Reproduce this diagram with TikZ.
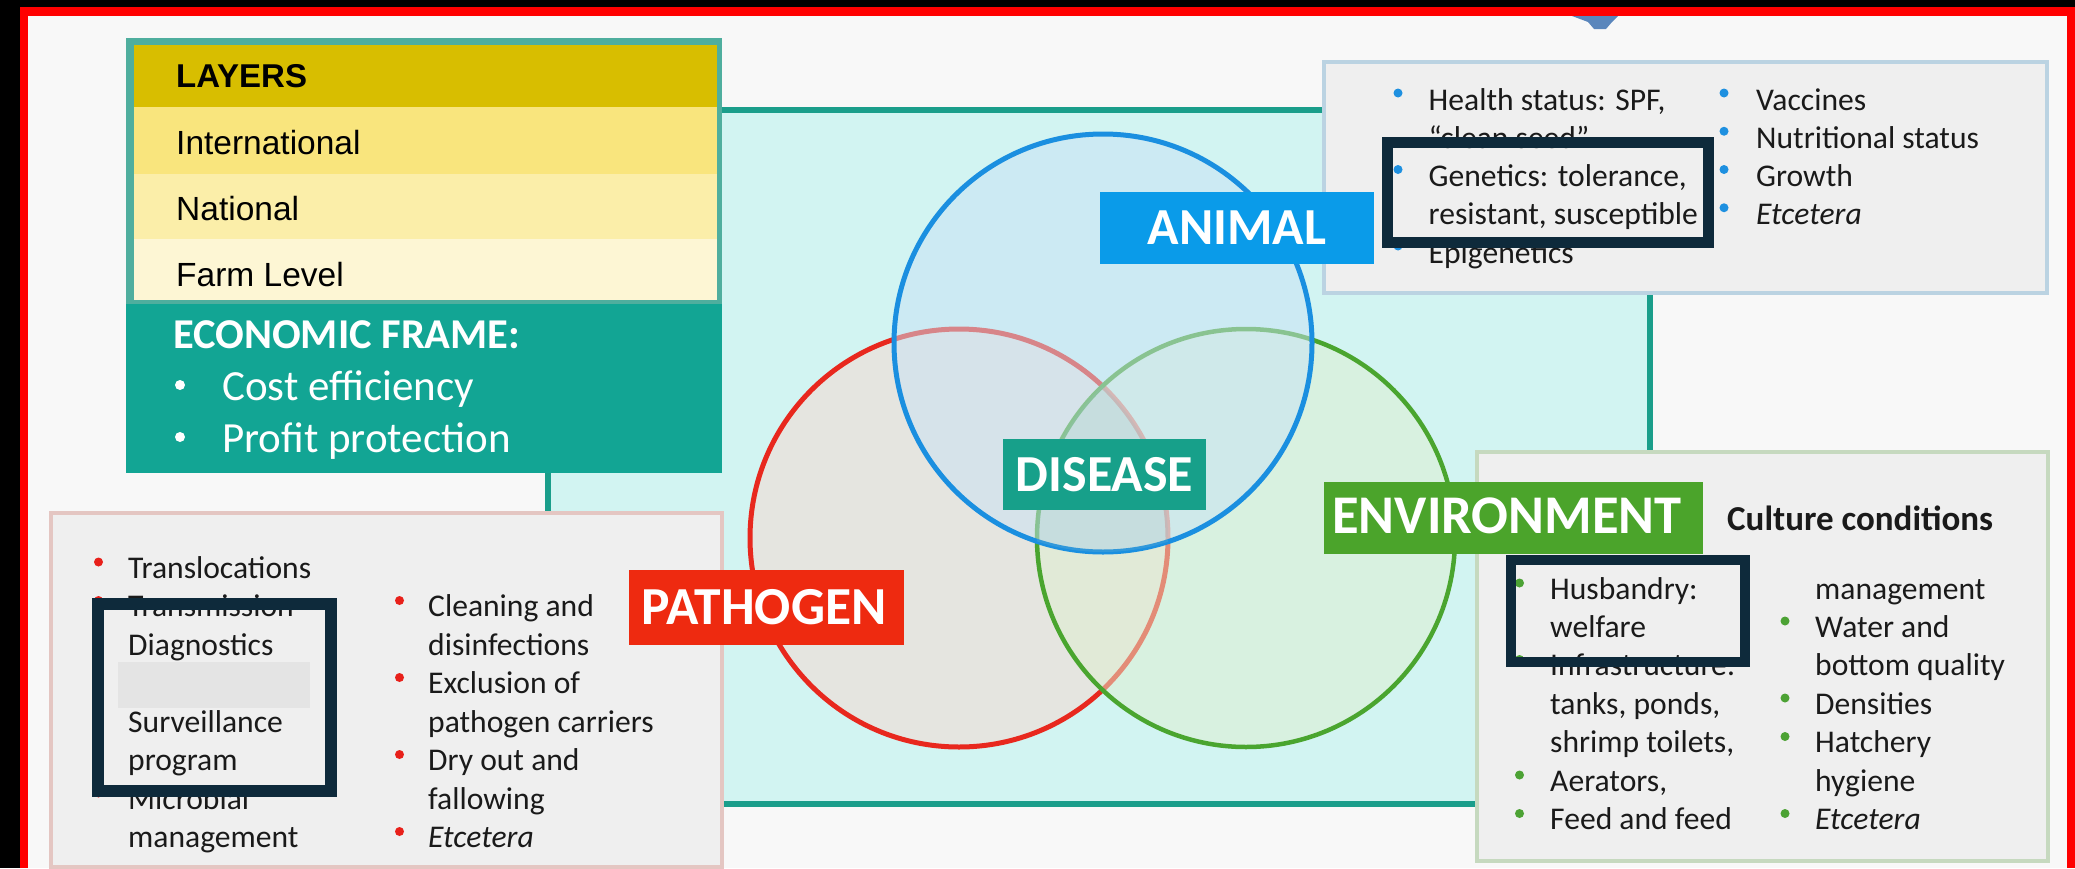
\documentclass[tikz,border=0pt]{standalone}
\usepackage{fontspec}
\setmainfont{Carlito}
\newfontfamily\arialfont{Liberation Sans}
\definecolor{bgc}{HTML}{F8F8F8}
\definecolor{frred}{HTML}{FF0000}
\definecolor{cyanbg}{HTML}{D2F4F2}
\definecolor{tealline}{HTML}{1A9E8B}
\definecolor{layhead}{HTML}{D8BE00}
\definecolor{layint}{HTML}{F9E57D}
\definecolor{laynat}{HTML}{FBEEA9}
\definecolor{layfarm}{HTML}{FDF6D4}
\definecolor{econ}{HTML}{12A594}
\definecolor{layborder}{HTML}{4FAE9E}
\definecolor{boxfill}{HTML}{EFEFEF}
\definecolor{animborder}{HTML}{BBD3E2}
\definecolor{pathborder}{HTML}{E4C6C2}
\definecolor{envborder}{HTML}{C6D9BF}
\definecolor{hilite}{HTML}{0E2A3B}
\definecolor{blueL}{HTML}{0A9BE9}
\definecolor{redL}{HTML}{EE2A10}
\definecolor{greenL}{HTML}{4BA42B}
\definecolor{tealL}{HTML}{17A08A}
\definecolor{blueC}{HTML}{1A8FE0}
\definecolor{redC}{HTML}{E8281E}
\definecolor{greenC}{HTML}{4AA52F}
\definecolor{blueF}{HTML}{C8E2F4}
\definecolor{redF}{HTML}{F2DCD5}
\definecolor{greenF}{HTML}{DFF0D0}
\definecolor{centerF}{HTML}{90C0C4}
\definecolor{txtc}{HTML}{1A1A1A}
\definecolor{bulB}{HTML}{1E90E0}
\definecolor{bulR}{HTML}{E8201A}
\definecolor{bulG}{HTML}{4CA234}
\definecolor{band}{HTML}{E4E4E4}
\definecolor{topblob}{HTML}{5A86BC}
\begin{document}
\begin{tikzpicture}[x=1pt,y=-1pt,
  lt/.style={anchor=base west, inner sep=0pt, text=txtc, font=\fontsize{31.6}{38}\selectfont},
  lti/.style={anchor=base west, inner sep=0pt, text=txtc, font=\fontsize{31.6}{38}\selectfont\itshape},
  lay/.style={anchor=base west, inner sep=0pt, text=black, font=\arialfont\fontsize{33.5}{40}\selectfont},
  big/.style={anchor=base, inner sep=0pt, text=white, font=\bfseries\fontsize{52}{60}\selectfont},
  econt/.style={anchor=base west, inner sep=0pt, text=white, font=\fontsize{43}{50}\selectfont},
  hbox/.style={draw=hilite, line width=11pt},
  panel/.style={fill=boxfill, line width=4pt}]
\useasboundingbox (0,0) rectangle (2075,868);
% background and frame
\fill[bgc] (0,0) rectangle (2075,868);
\fill[black] (0,0) rectangle (2075,7);
\fill[black] (0,0) rectangle (20,868);
\fill[frred] (20,7) rectangle (2075,16);
\fill[frred] (20,7) rectangle (28,868);
\fill[frred] (2067,7) rectangle (2075,868);
\fill[topblob] (1572,16) -- (1618,16) -- (1612,22) -- (1606,29) -- (1594,29) -- (1588,22) -- cycle;
% big cyan area
\filldraw[fill=cyanbg, draw=tealline, line width=6pt] (548,110) rectangle (1650,804);
% layers box
\fill[layborder] (126,38) rectangle (722,473);
\fill[layhead] (134,45) rectangle (717,107);
\fill[layint] (134,107) rectangle (717,174);
\fill[laynat] (134,174) rectangle (717,239);
\fill[layfarm] (134,239) rectangle (717,300);
\fill[econ] (126,304) rectangle (722,473);
\node[lay, font=\arialfont\bfseries\fontsize{33}{40}\selectfont] (layers) at (176,87) {LAYERS};
\node[lay] (intl) at (176,154) {International};
\node[lay] (natl) at (176,220) {National};
\node[lay] (farm) at (176,286) {Farm Level};
\node[econt, font=\bfseries\fontsize{42.5}{50}\selectfont] (econhead) at (173,348) {ECONOMIC FRAME:};
\fill[white] (180,385) circle[radius=5pt];
\node[econt] (cost) at (222,400) {Cost efficiency};
\fill[white] (180,437) circle[radius=5pt];
\node[econt] (profit) at (222,452) {Profit protection};
% side panels
\draw[panel, draw=animborder] (1324,62) rectangle (2047,293);
\draw[panel, draw=pathborder] (51,513) rectangle (722,867);
\draw[panel, draw=envborder] (1477,452) rectangle (2048,861);
% circles
\filldraw[fill=redF, fill opacity=0.6, draw=redC, line width=5pt] (959,538) circle[radius=209pt];
\filldraw[fill=greenF, fill opacity=0.5, draw=greenC, line width=4.5pt] (1246,538) circle[radius=209pt];
\filldraw[fill=blueF, fill opacity=0.5, draw=blueC, line width=5pt] (1103,343) circle[radius=209pt];
\begin{scope}
\clip (959,538) circle[radius=209pt];
\clip (1246,538) circle[radius=209pt];
\fill[centerF, fill opacity=0.2] (1103,343) circle[radius=209pt];
\end{scope}
% labels
\fill[blueL] (1100,192) rectangle (1374,264);
\node[big] (animal) at (1237,244.5) {ANIMAL};
\fill[tealL] (1003,439) rectangle (1206,510);
\node[big] (disease) at (1104.5,491) {DISEASE};
\fill[redL] (629,570) rectangle (904,645);
\node[big, font=\bfseries\fontsize{53.5}{60}\selectfont] (pathogen) at (764,624.5) {PATHOGEN};
\fill[greenL] (1324,482) rectangle (1703,554);
\node[big, font=\bfseries\fontsize{54.5}{60}\selectfont] (environment) at (1507,533) {ENVIRONMENT};
% animal list
\foreach \y in {110,186.5,263} \fill[bulB] (1398,\y-17) circle[radius=4.5pt];
\foreach \y in {110,148.25,186.5,224.75} \fill[bulB] (1724,\y-17) circle[radius=4.5pt];
\node[lt] (a1) at (1428.5,110) {Health status: SPF,};
\node[lt] (a2) at (1428.5,148.25) {“clean seed”};
\node[lt] (a3) at (1428.5,186.5) {Genetics: tolerance,};
\node[lt] (a4) at (1428.5,224.75) {resistant, susceptible};
\node[lt] (a5) at (1428.5,263) {Epigenetics};
\node[lt] (a6) at (1756,110) {Vaccines};
\node[lt] (a7) at (1756,148.25) {Nutritional status};
\node[lt] (a8) at (1756,186.5) {Growth};
\node[lti] (a9) at (1756,224.75) {Etcetera};
% pathogen list
\foreach \y in {578,616.5,655,732,809} \fill[bulR] (98.5,\y-16) circle[radius=4.5pt];
\foreach \y in {616.5,693.5,770.5,847.5} \fill[bulR] (399.5,\y-16) circle[radius=4.5pt];
\node[lt] (p1) at (128,578) {Translocations};
\node[lt] (p2) at (128,616.5) {Transmission};
\node[lt] (p3) at (128,655) {Diagnostics};
\node[lt] (p4) at (128,732) {Surveillance};
\node[lt] (p5) at (128,770.5) {program};
\node[lt] (p6) at (128,809) {Microbial};
\node[lt] (p7) at (128,847.5) {management};
\node[lt] (p8) at (428,616.5) {Cleaning and};
\node[lt] (p9) at (428,655) {disinfections};
\node[lt] (p10) at (428,693.5) {Exclusion of};
\node[lt] (p11) at (428,732) {pathogen carriers};
\node[lt] (p12) at (428,770.5) {Dry out and};
\node[lt] (p13) at (428,809) {fallowing};
\node[lti] (p14) at (428,847.5) {Etcetera};
% environment list
\node[lt, font=\bfseries\fontsize{35}{40}\selectfont] (culture) at (1727,530) {Culture conditions};
\foreach \y in {599,675.5,791,829.5} \fill[bulG] (1519.5,\y-16) circle[radius=4.5pt];
\foreach \y in {637,714,752.5,829.5} \fill[bulG] (1785,\y-16) circle[radius=4.5pt];
\node[lt] (e1) at (1550,599) {Husbandry:};
\node[lt] (e2) at (1550,637) {welfare};
\node[lt] (e3) at (1550,675.5) {Infrastructure:};
\node[lt] (e4) at (1550,714) {tanks, ponds,};
\node[lt] (e5) at (1550,752.5) {shrimp toilets,};
\node[lt] (e6) at (1550,791) {Aerators,};
\node[lt] (e7) at (1550,829.5) {Feed and feed};
\node[lt] (e8) at (1815,599) {management};
\node[lt] (e9) at (1815,637) {Water and};
\node[lt] (e10) at (1815,675.5) {bottom quality};
\node[lt] (e11) at (1815,714) {Densities};
\node[lt] (e12) at (1815,752.5) {Hatchery};
\node[lt] (e13) at (1815,791) {hygiene};
\node[lti] (e14) at (1815,829.5) {Etcetera};
% highlight boxes
\fill[band] (118,662) rectangle (310,708);
\draw[hbox] (1387.5,142.5) rectangle (1708.5,242.5);
\draw[hbox, line width=12pt] (98,604) rectangle (331,791);
\draw[hbox, line width=10pt] (1511,560) rectangle (1745,662);
\end{tikzpicture}
\end{document}
